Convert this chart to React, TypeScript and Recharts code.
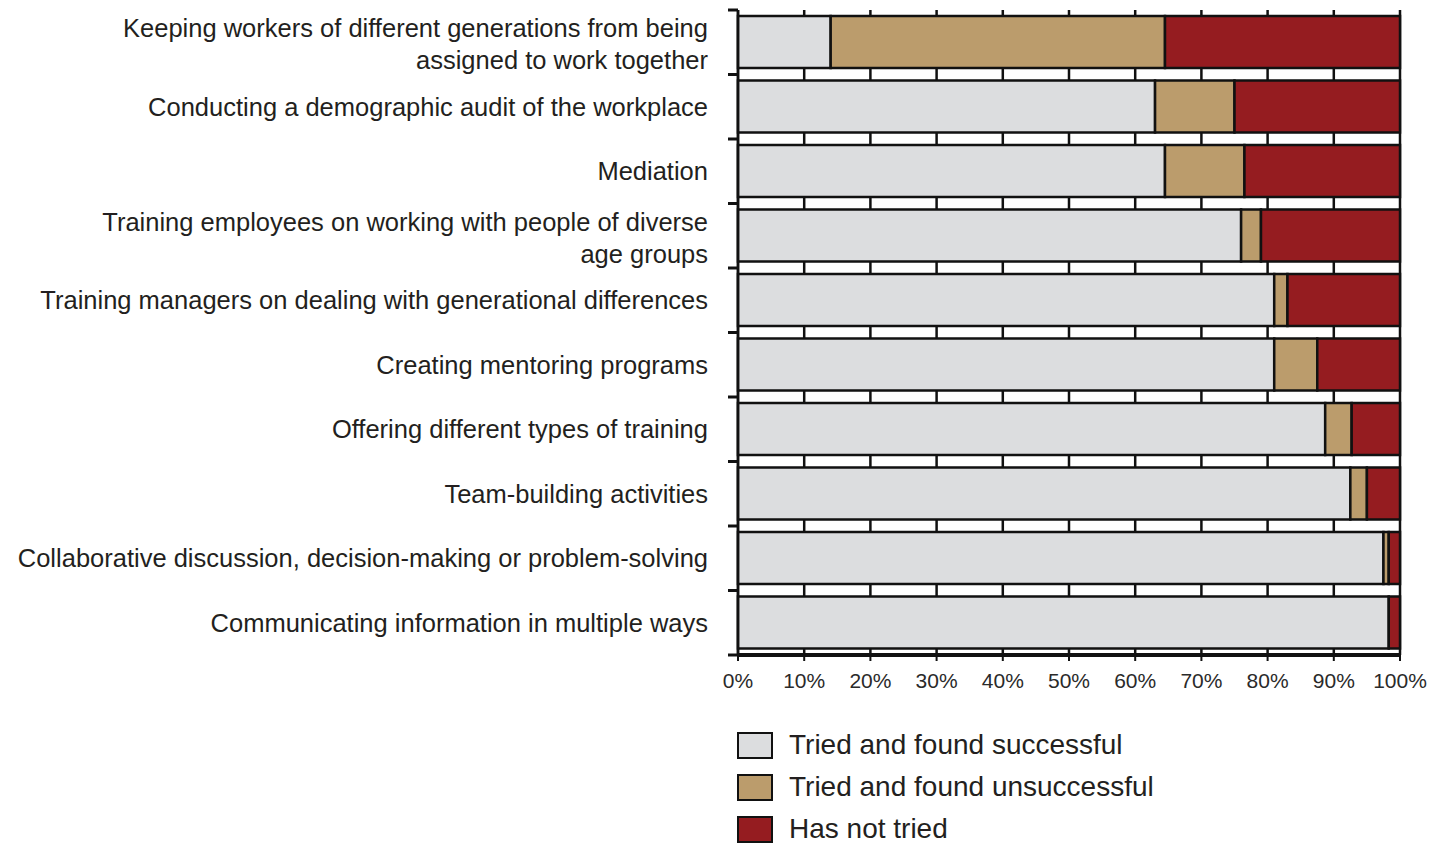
import { BarChart, Bar, XAxis, YAxis, CartesianGrid } from 'recharts';

const CATEGORIES = [
  'Keeping workers of different generations from being\nassigned to work together',
  'Conducting a demographic audit of the workplace',
  'Mediation',
  'Training employees on working with people of diverse\nage groups',
  'Training managers on dealing with generational differences',
  'Creating mentoring programs',
  'Offering different types of training',
  'Team-building activities',
  'Collaborative discussion, decision-making or problem-solving',
  'Communicating information in multiple ways',
];

// percent of respondents
const SUCCESSFUL = [14, 63, 64.5, 76, 81, 81, 88.7, 92.5, 97.5, 98.3];
const UNSUCCESSFUL = [50.5, 12, 12, 3, 2, 6.5, 4, 2.5, 0.8, 0];
const NOT_TRIED = [35.5, 25, 23.5, 21, 17, 12.5, 7.3, 5, 1.7, 1.7];

const X_TICKS = [0, 10, 20, 30, 40, 50, 60, 70, 80, 90, 100];

const SERIES = [
  { key: 'successful', label: 'Tried and found successful', color: '#dcdddf' },
  { key: 'unsuccessful', label: 'Tried and found unsuccessful', color: '#bb9c6c' },
  { key: 'notTried', label: 'Has not tried', color: '#951c20' },
];

const data = CATEGORIES.map((name, i) => ({
  name,
  successful: SUCCESSFUL[i],
  unsuccessful: UNSUCCESSFUL[i],
  notTried: NOT_TRIED[i],
}));

const INK = '#111';
const TEXT = '#231f20';
const FONT = '"Liberation Sans", Arial, sans-serif';

function CategoryTick(props: any) {
  const { x, y, payload, index } = props;
  const lines = String(payload.value).split('\n');
  const half = 32.25;
  const lineH = 32;
  const start = -((lines.length - 1) * lineH) / 2 + (lines.length > 1 ? 2 : 0);
  return (
    <g>
      <line x1={x + 20} x2={x + 30} y1={y - half} y2={y - half} stroke={INK} strokeWidth={3} />
      {index === CATEGORIES.length - 1 && (
        <line x1={x + 20} x2={x + 30} y1={y + half} y2={y + half} stroke={INK} strokeWidth={3} />
      )}
      <text x={x} y={y + start} textAnchor="end" fill={TEXT} fontSize={25.5} fontFamily={FONT}>
        {lines.map((l, i) => (
          <tspan key={i} x={x} dy={i === 0 ? 9 : lineH}>
            {l}
          </tspan>
        ))}
      </text>
    </g>
  );
}

export default function App() {
  return (
    <div style={{ position: 'relative', width: 1437, height: 843, background: '#fff', overflow: 'hidden' }}>
      <style>{'body{margin:0}'}</style>
      <BarChart
        width={1437}
        height={843}
        data={data}
        layout="vertical"
        margin={{ top: 10, right: 37, bottom: 148, left: 0 }}
        barSize={52}
      >
        <CartesianGrid horizontal={false} stroke={INK} strokeWidth={2.5} />
        <XAxis
          type="number"
          domain={[0, 100]}
          ticks={X_TICKS}
          tickFormatter={(v) => `${v}%`}
          axisLine={{ stroke: INK, strokeWidth: 4 }}
          tickLine={{ stroke: INK, strokeWidth: 2 }}
          tickSize={6}
          tickMargin={12}
          height={40}
          tick={{ fontSize: 21, fill: '#2a2a2a', fontFamily: FONT }}
        />
        <YAxis
          type="category"
          dataKey="name"
          width={738}
          tickSize={10}
          tickMargin={20}
          tickLine={false}
          axisLine={{ stroke: INK, strokeWidth: 2.5 }}
          tick={<CategoryTick />}
          interval={0}
        />
        {SERIES.map((s) => (
          <Bar
            key={s.key}
            dataKey={s.key}
            name={s.label}
            stackId="a"
            fill={s.color}
            stroke={INK}
            strokeWidth={2.5}
            isAnimationActive={false}
          />
        ))}
      </BarChart>
      <div style={{ position: 'absolute', left: 737, top: 724, fontFamily: FONT, color: TEXT }}>
        {SERIES.map((s) => (
          <div key={s.key} style={{ display: 'flex', alignItems: 'center', height: 42, lineHeight: '42px' }}>
            <span
              style={{
                display: 'inline-block',
                width: 32,
                height: 23,
                background: s.color,
                border: `2.5px solid ${INK}`,
                marginRight: 16,
              }}
            />
            <span style={{ fontSize: 28 }}>{s.label}</span>
          </div>
        ))}
      </div>
    </div>
  );
}
